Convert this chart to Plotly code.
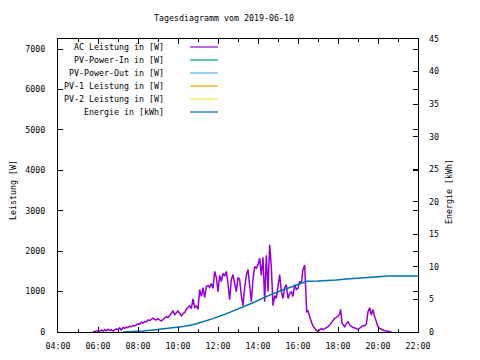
import plotly.graph_objects as go

DATE = "2019-06-10"
TITLE = "Tagesdiagramm vom 2019-06-10"

# AC Leistung [W]
ac_times = ["05:45","05:50","05:55","06:00","06:05","06:10","06:15","06:20","06:25","06:30",
            "06:35","06:40","06:45","06:50","06:55","07:00","07:05","07:10","07:15","07:20",
            "07:25","07:30","07:35","07:40","07:45","07:50","07:55","08:00","08:05","08:10",
            "08:15","08:20","08:25","08:30","08:35","08:40","08:45","08:50","08:55","09:00",
            "09:05","09:10","09:15","09:20","09:25","09:30","09:35","09:40","09:45","09:50",
            "09:55","10:00","10:05","10:10","10:15","10:20","10:25","10:30","10:35","10:40",
            "10:45","10:50","10:55","11:00","11:05","11:10","11:15","11:20","11:25","11:30",
            "11:35","11:40","11:45","11:50","11:55","12:00","12:05","12:10","12:15","12:20",
            "12:25","12:30","12:35","12:40","12:45","12:50","12:55","13:00","13:05","13:10",
            "13:15","13:20","13:25","13:30","13:35","13:40","13:45","13:50","13:55","14:00",
            "14:05","14:10","14:15","14:20","14:25","14:30","14:35","14:40","14:45","14:50",
            "14:55","15:00","15:05","15:10","15:15","15:20","15:25","15:30","15:35","15:40",
            "15:45","15:50","15:55","16:00","16:05","16:10","16:15","16:20","16:23","16:26",
            "16:30","16:35","16:40","16:45","16:50","16:55","17:00","17:05","17:10","17:15",
            "17:20","17:25","17:30","17:35","17:40","17:45","17:50","17:55","18:00","18:05",
            "18:08","18:12","18:15","18:20","18:25","18:30","18:35","18:40","18:45","18:50",
            "18:55","19:00","19:05","19:10","19:15","19:20","19:25","19:30","19:35","19:40",
            "19:45","19:50","19:55","20:00","20:05","20:10","20:15","20:20","20:25","20:30",
            "20:35","20:40"]
ac_values = [0, 20, 10, 40, 15, 50, 20, 60, 30, 70,
             40, 60, 25, 55, 80, 60, 100, 50, 110, 90,
             120, 110, 140, 130, 160, 150, 170, 200, 190, 240,
             220, 260, 250, 300, 280, 320, 340, 310, 300, 330,
             290, 270, 310, 350, 380, 360, 420, 450, 520, 430,
             470, 520, 460, 400, 460, 480, 560, 600, 650, 580,
             820, 610, 640, 560, 1050, 880, 1100, 850, 1120, 1150,
             1100, 1200, 1080, 1500, 1350, 1000, 1400, 1250, 1450, 1380,
             1500, 1200, 800, 1300, 1420, 1200, 1000, 1350, 1300, 900,
             650, 1100, 1400, 1550, 1200, 750, 1300, 1620, 1580, 1660,
             1830, 1400, 1850, 750, 1900, 1000, 2160, 1600, 650, 900,
             830, 1200, 1420, 1000, 830, 1100, 1170, 830, 950, 1000,
             880, 1170, 1050, 1080, 1250, 1200, 1550, 1660, 750, 500,
             520, 350, 250, 150, 90, 40, 10, 40, 90, 60,
             80, 100, 130, 170, 220, 280, 340, 360, 390, 450,
             560, 220, 180, 130, 200, 260, 170, 130, 110, 100,
             90, 60, 100, 130, 160, 150, 200, 500, 600, 420,
             550, 380, 220, 130, 90, 60, 50, 30, 20, 10,
             0, 0]

# Energie [kWh]
en_times = ["07:15","07:45","08:15","08:45","09:15","09:45","10:15","10:45","11:15","11:45",
            "12:15","12:45","13:15","13:45","14:15","14:45","15:15","15:45","16:15","16:26",
            "17:00","17:30","17:55","18:25","19:25","19:50","20:30","22:00"]
en_values = [0, 0.05, 0.15, 0.3, 0.45, 0.65, 0.85, 1.1, 1.55, 2.05,
             2.6, 3.2, 3.85, 4.5, 5.2, 5.9, 6.45, 7.0, 7.5, 7.8,
             7.85, 7.9, 8.0, 8.15, 8.3, 8.45, 8.6, 8.6]

legend_names = ["AC Leistung in [W]", "PV-Power-In in [W]", "PV-Power-Out in [W]",
                "PV-1 Leistung in [W]", "PV-2 Leistung in [W]", "Energie in [kWh]"]
legend_colors = ["#9400d3", "#009e73", "#56b4e9", "#e69f00", "#f0e442", "#0072b2"]

x_tick_labels = ["04:00","06:00","08:00","10:00","12:00","14:00","16:00","18:00","20:00","22:00"]

FONT = "DejaVu Sans Mono"
FS = 8.3
W, H = 480, 360
L, R, T, B = 58, 418, 39, 332

def ts(t):
    return f"{DATE} {t}"

fig = go.Figure()
fig.add_trace(go.Scatter(x=[ts(t) for t in ac_times], y=ac_values, mode="lines",
                         line=dict(color=legend_colors[0], width=1.5),
                         name=legend_names[0], yaxis="y"))
for n, c in zip(legend_names[1:5], legend_colors[1:5]):
    fig.add_trace(go.Scatter(x=[], y=[], mode="lines", line=dict(color=c, width=1), name=n))
fig.add_trace(go.Scatter(x=[ts(t) for t in en_times], y=en_values, mode="lines",
                         line=dict(color=legend_colors[5], width=1.5),
                         name=legend_names[5], yaxis="y2"))

# legend drawn gnuplot-style: right-aligned text, line sample on the right
def px2x(px):
    return (px - L) / (R - L)
def py2y(py):
    return (B - py) / (B - T)

annotations = []
shapes = []
for i, (n, c) in enumerate(zip(legend_names, legend_colors)):
    yy = 47 + i * 13
    annotations.append(dict(x=px2x(166), y=py2y(yy), xref="paper", yref="paper",
                            text=n, showarrow=False, xanchor="right", yanchor="middle",
                            font=dict(family=FONT, size=FS, color="black")))
    shapes.append(dict(type="line", xref="paper", yref="paper",
                       x0=px2x(190), x1=px2x(218), y0=py2y(yy), y1=py2y(yy),
                       line=dict(color=c, width=1.2)))

annotations.append(dict(x=px2x(6), y=py2y(190), xref="paper", yref="paper",
                        text="Leistung [W]", textangle=-90, showarrow=False,
                        font=dict(family=FONT, size=FS, color="black")))
annotations.append(dict(x=px2x(456), y=py2y(192), xref="paper", yref="paper",
                        text="Energie [kWh]", textangle=-90, showarrow=False,
                        font=dict(family=FONT, size=FS, color="black")))

fig.update_layout(
    width=W, height=H,
    margin=dict(l=L, r=W - R, t=T, b=H - B, pad=0, autoexpand=False),
    paper_bgcolor="white", plot_bgcolor="white",
    showlegend=False,
    font=dict(family=FONT, size=FS, color="black"),
    title=dict(text=TITLE, x=224 / W, xanchor="center", xref="container",
               y=1 - 18 / H, yanchor="middle", yref="container", automargin=False,
               font=dict(family=FONT, size=FS, color="black")),
    xaxis=dict(type="date", range=[ts("04:00"), ts("22:00")], automargin=False,
               tickvals=[ts(t) for t in x_tick_labels], ticktext=x_tick_labels,
               ticks="inside", ticklen=5, tickcolor="black",
               minor=dict(dtick=3600000, ticks="inside", ticklen=3, tickcolor="black"),
               showline=True, linecolor="black", linewidth=1, mirror="ticks",
               showgrid=False, zeroline=False, ticklabelstandoff=6,
               tickfont=dict(family=FONT, size=FS, color="black")),
    yaxis=dict(range=[0, 7250], tickvals=[0, 1000, 2000, 3000, 4000, 5000, 6000, 7000],
               automargin=False,
               ticks="inside", ticklen=5, tickcolor="black",
               showline=True, linecolor="black", linewidth=1, mirror="ticks",
               showgrid=False, zeroline=False, ticklabelstandoff=10,
               tickfont=dict(family=FONT, size=FS, color="black")),
    yaxis2=dict(range=[0, 45], tickvals=[0, 5, 10, 15, 20, 25, 30, 35, 40, 45],
                overlaying="y", side="right", anchor="x", automargin=False,
                ticks="inside", ticklen=5, tickcolor="black",
                showline=False, showgrid=False, zeroline=False, ticklabelstandoff=10,
                tickfont=dict(family=FONT, size=FS, color="black")),
    annotations=annotations,
    shapes=shapes,
)

fig.write_html("out.html", config={"displayModeBar": False, "staticPlot": True},
               post_script="document.body.style.margin='0';document.body.style.overflow='hidden';")
